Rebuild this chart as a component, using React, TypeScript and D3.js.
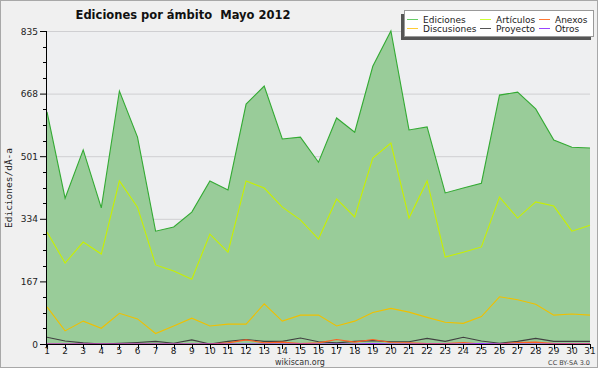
import React from 'react';
import * as d3 from 'd3';

const days = d3.range(1, 32);
const ediciones = [619, 389, 518, 363, 675, 552, 301, 312, 352, 435, 411, 640, 688, 547, 552, 485, 603, 565, 741, 835, 571, 579, 403, 416, 429, 664, 672, 627, 544, 525, 523];
const articulos = [299, 216, 272, 240, 435, 365, 211, 195, 173, 293, 245, 435, 416, 365, 331, 280, 387, 339, 496, 536, 336, 435, 232, 245, 259, 392, 336, 379, 368, 301, 317];
const discusiones = [99, 35, 61, 42, 82, 67, 28, 48, 69, 48, 53, 53, 107, 61, 77, 77, 48, 61, 84, 95, 85, 71, 58, 55, 73, 126, 118, 106, 77, 80, 77];
const proyecto = [18, 8, 3, 0, 2, 4, 7, 2, 11, 0, 7, 12, 7, 7, 16, 6, 3, 7, 9, 6, 6, 15, 7, 18, 8, 2, 7, 15, 7, 7, 7];
const anexos = [0, 0, 0, 0, 0, 0, 0, 0, 0, 0, 3, 11, 3, 5, 1, 3, 12, 5, 12, 4, 3, 1, 1, 4, 0, 0, 4, 5, 1, 1, 1];
const otros = [0, 0, 0, 0, 0, 0, 0, 0, 0, 0, 0, 0, 0, 0, 0, 0, 0, 0, 1, 0, 0, 0, 0, 0, 1, 0, 0, 0, 0, 0, 0];
const yTicks = [0, 167, 334, 501, 668, 835];

const series = [
  {name: 'Artículos', values: articulos, color: '#c8f000'},
  {name: 'Discusiones', values: discusiones, color: '#f0c000'},
  {name: 'Proyecto', values: proyecto, color: '#404040'},
  {name: 'Anexos', values: anexos, color: '#ff6020'},
  {name: 'Otros', values: otros, color: '#9933ff'},
];

const legend = [
  {name: 'Ediciones', color: '#66cc66', col: 0, row: 0},
  {name: 'Artículos', color: '#ccff33', col: 1, row: 0},
  {name: 'Anexos', color: '#ff7733', col: 2, row: 0},
  {name: 'Discusiones', color: '#ffcc33', col: 0, row: 1},
  {name: 'Proyecto', color: '#555555', col: 1, row: 1},
  {name: 'Otros', color: '#9944ff', col: 2, row: 1},
];

const W = 600, H = 370;
const font = '"DejaVu Sans", sans-serif';

export default function App() {
  const x = d3.scaleLinear().domain([1, 31]).range([47, 590]);
  const y = d3.scaleLinear().domain([0, 835]).range([344, 31]);

  const line = (vals: number[]) =>
    d3.line<number>().x((_, i) => x(days[i])).y(d => y(d))(vals) || '';
  const area = d3.area<number>()
    .x((_, i) => x(days[i]))
    .y0(y(0))
    .y1(d => y(d))(ediciones) || '';

  const minor: number[] = [];
  for (let i = 0; i < yTicks.length - 1; i++) {
    const step = (yTicks[i + 1] - yTicks[i]) / 4;
    for (let k = 1; k < 4; k++) minor.push(yTicks[i] + step * k);
  }

  const legX = [407, 480, 539];

  return (
    <div style={{position: 'absolute', left: 0, top: 0}}>
      <svg width={W} height={H} style={{display: 'block', fontFamily: font}}>
        <rect x={0.5} y={0.5} width={597} height={367} fill="#f0f0f0" stroke="#a8a8a8" />
        <rect x={x(1)} y={y(835)} width={x(31) - x(1)} height={y(0) - y(835)} fill="#eeeff1" />

        {/* grid */}
        {yTicks.slice(1).map(t => (
          <line key={t} x1={x(1)} x2={x(31)} y1={y(t) + 0.5} y2={y(t) + 0.5} stroke="#cfcfd2" />
        ))}

        <path d={area} fill="#99cc99" />
        <path d={line(ediciones)} fill="none" stroke="#33aa33" strokeWidth={1.1} />
        {series.map(s => (
          <path key={s.name} d={line(s.values)} fill="none" stroke={s.color} strokeWidth={1.1} />
        ))}

        {/* y axis */}
        <line x1={x(1) - 0.5} x2={x(1) - 0.5} y1={y(835)} y2={y(0) + 4} stroke="#000" />
        {yTicks.map(t => (
          <g key={t}>
            <line x1={40} x2={x(1)} y1={y(t) + 0.5} y2={y(t) + 0.5} stroke="#000" />
            <text x={38} y={y(t) + 3.5} fontSize={9} textAnchor="end" fill="#222">{t}</text>
          </g>
        ))}
        {minor.map(t => (
          <line key={t} x1={43} x2={x(1)} y1={Math.round(y(t)) + 0.5} y2={Math.round(y(t)) + 0.5} stroke="#000" />
        ))}

        {/* x axis */}
        <line x1={x(1)} x2={x(31)} y1={y(0) + 0.5} y2={y(0) + 0.5} stroke="#000" />
        {days.map(d => (
          <g key={d}>
            <line x1={Math.round(x(d)) + 0.5} x2={Math.round(x(d)) + 0.5} y1={y(0)} y2={y(0) + 5} stroke="#000" />
            <text x={x(d)} y={354} fontSize={9} textAnchor="middle" fill="#222">{d}</text>
          </g>
        ))}

        <text x={12} y={188} fontSize={9.5} fontFamily='"DejaVu Sans Mono", monospace' textAnchor="middle"
          transform="rotate(-90 12 188)" fill="#222">Ediciones/dÃ-a</text>

        <text x={183} y={19} fontSize={11.5} fontWeight="bold" textAnchor="middle" fill="#111"
          style={{whiteSpace: 'pre'}}>
          {'Ediciones por ámbito  Mayo 2012'}
        </text>

        <text x={300} y={365} fontSize={8} textAnchor="middle" fill="#333">wikiscan.org</text>
        <text x={590} y={365} fontSize={6.5} textAnchor="end" fill="#444">CC BY-SA 3.0</text>

        {/* legend */}
        <rect x={401} y={14} width={190} height={26} fill="#555" />
        <rect x={404.5} y={10.5} width={189} height={26} fill="#ffffff" stroke="#999" />
        {legend.map(l => (
          <g key={l.name}>
            <line x1={legX[l.col]} x2={legX[l.col] + 11} y1={19.5 + l.row * 9} y2={19.5 + l.row * 9} stroke={l.color} />
            <text x={legX[l.col] + 16} y={23 + l.row * 9} fontSize={9} fill="#222">{l.name}</text>
          </g>
        ))}
      </svg>
    </div>
  );
}
